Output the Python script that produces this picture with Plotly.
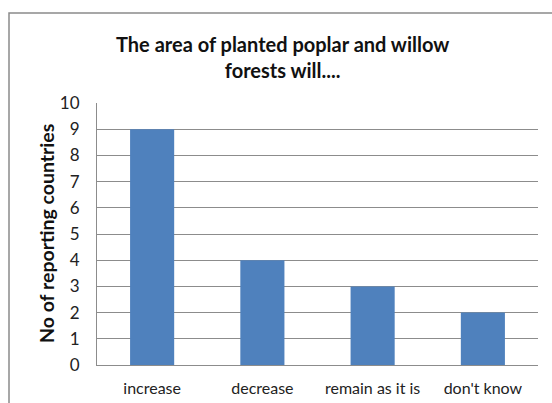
import plotly.graph_objects as go

categories = ["increase", "decrease", "remain as it is", "don't know"]
countries = [9, 4, 3, 2]
y_ticks = list(range(0, 11))

FONT = "Lato"
GRID = "#8c8c8c"
W, H = 552, 403
L, R, T, B = 97, 14, 103, 38
PW, PH = W - L - R, H - T - B


def px_x(px):
    return (px - L) / PW


def px_y(py):
    return (H - B - py) / PH


fig = go.Figure(
    go.Bar(
        x=categories,
        y=countries,
        marker=dict(color="#4F81BD", line=dict(width=0)),
        width=0.4,
    )
)

fig.update_layout(
    width=W,
    height=H,
    margin=dict(l=L, r=R, t=T, b=B, autoexpand=False),
    paper_bgcolor="white",
    plot_bgcolor="white",
    showlegend=False,
    font=dict(family=FONT, color="#222222"),
    annotations=[
        dict(
            text="<b>The area of planted poplar and willow<br>forests will....</b>",
            xref="paper",
            yref="paper",
            x=px_x(282),
            y=px_y(57),
            xanchor="center",
            yanchor="middle",
            showarrow=False,
            font=dict(family=FONT, size=20, color="#111111"),
        ),
        dict(
            text="<b>No of reporting countries</b>",
            xref="paper",
            yref="paper",
            x=px_x(46),
            y=0.5,
            xanchor="center",
            yanchor="middle",
            textangle=-90,
            showarrow=False,
            font=dict(family=FONT, size=19.5, color="#111111"),
        ),
    ],
    shapes=[
        dict(
            type="rect",
            xref="paper",
            yref="paper",
            x0=px_x(9),
            x1=1.2,
            y0=-0.3,
            y1=px_y(13),
            line=dict(color="#8a8a8a", width=1.5),
            fillcolor="rgba(0,0,0,0)",
            layer="below",
        )
    ],
)

fig.update_xaxes(
    showgrid=False,
    showline=True,
    linecolor=GRID,
    linewidth=1,
    ticks="",
    automargin=False,
    tickfont=dict(family=FONT, size=16, color="#222222"),
    ticklabelstandoff=9,
)

fig.update_yaxes(
    range=[0, 10],
    tickvals=y_ticks,
    showgrid=True,
    gridcolor=GRID,
    gridwidth=1,
    showline=True,
    linecolor=GRID,
    linewidth=1,
    ticks="",
    zeroline=False,
    automargin=False,
    tickfont=dict(family=FONT, size=17, color="#222222"),
    ticklabelstandoff=13,
)

fig.write_html("out.html")
